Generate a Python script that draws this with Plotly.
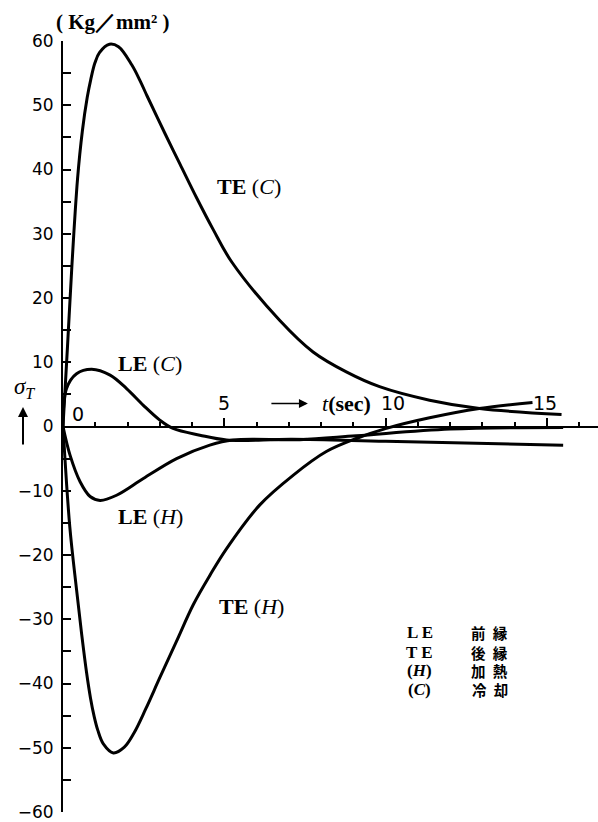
import plotly.graph_objects as go

# ---- data ----
te_c_t = [0, 0.14, 0.27, 0.45, 0.6, 0.75, 0.86, 0.99, 1.13, 1.44, 1.72, 2.13, 2.39, 2.61, 3.16, 3.63, 4.14, 4.66, 5.23,
          6.72, 7.75, 8.78, 9.81, 11.36, 12.91, 15.45]
te_c_v = [0, 12.5, 24.5, 38.5, 46.0, 51.2, 54.0, 56.6, 58.2, 59.5, 59.1, 56.3, 53.8, 51.4, 45.6, 40.8, 35.6, 30.6, 25.6,
          16.5, 11.6, 8.5, 6.2, 4.1, 2.8, 1.85]

te_h_t = [0, 0.21, 0.42, 0.58, 0.73, 0.85, 0.96, 1.08, 1.25, 1.56, 1.9, 2.2, 2.56, 3.0, 3.52, 4.04, 4.56, 5.07,
          6.1, 7.13, 8.16, 9.09, 10.02, 11.36, 12.9, 14.55]
te_h_v = [0, -15.6, -25.4, -32.4, -38.3, -42.2, -45.0, -47.3, -49.4, -50.8, -49.9, -47.7, -44.0, -39.1, -33.4, -27.7, -23.1, -19.0,
          -12.2, -7.6, -3.9, -1.87, -0.3, 1.35, 2.8, 3.75]

le_c_t = [0, 0.11, 0.42, 0.89, 1.46, 1.97, 2.49, 3.0, 3.41, 4.24, 5.07, 7.1, 10.0, 15.5]
le_c_v = [0, 5.9, 8.2, 8.9, 8.0, 5.9, 3.3, 1.0, -0.3, -1.35, -2.1, -2.0, -2.3, -2.9]

le_h_t = [0, 0.22, 0.53, 0.84, 1.15, 1.66, 2.49, 3.52, 4.55, 5.27, 7.34, 9.09, 12.0, 15.5]
le_h_v = [0, -4.5, -8.6, -10.9, -11.5, -10.7, -8.1, -5.0, -2.9, -2.1, -2.05, -1.45, -0.4, -0.15]

x_tick_labels = ["0", "5", "10", "15"]
y_tick_vals = list(range(-60, 61, 10))

legend_abbr = ["L E", "T E", "(<i>H</i>)", "(<i>C</i>)"]
legend_text = ["前\u2002縁", "後\u2002縁", "加\u2002熱", "冷\u2002却"]

SERIF = "Liberation Serif"
SANS = "DejaVu Sans"
CJK = "Noto Sans CJK JP"

# plot-area geometry (pixels) used for converting paper positions
L, R, T, B = 63, 598, 41, 814
W, H = R - L, B - T


def px(xp):
    return (xp - L) / W


def py(yp):
    return (B - yp) / H


fig = go.Figure()
for tt, vv in [(te_c_t, te_c_v), (te_h_t, te_h_v), (le_c_t, le_c_v), (le_h_t, le_h_v)]:
    fig.add_trace(go.Scatter(x=tt, y=vv, mode="lines",
                             line=dict(color="black", width=3, shape="spline", smoothing=1.0),
                             showlegend=False, hoverinfo="skip", cliponaxis=False))

ann = []
# x tick labels (above the axis)
x_lab_pos = [(0.46, 2.0), (4.99, 3.6), (10.23, 3.6), (14.94, 3.6)]
for lab, (xv, yv) in zip(x_tick_labels, x_lab_pos):
    ann.append(dict(x=xv, y=yv, text=lab, showarrow=False, xanchor="center", yanchor="middle",
                    font=dict(family=SANS, size=19, color="black")))

# curve labels
curve_labels = [("<b>TE</b> (<i>C</i>)", 5.76, 37.3), ("<b>LE</b> (<i>C</i>)", 2.7, 9.8),
                ("<b>LE</b> (<i>H</i>)", 2.7, -14.0), ("<b>TE</b> (<i>H</i>)", 5.83, -28.0)]
for txt, xv, yv in curve_labels:
    ann.append(dict(x=xv, y=yv, text=txt, showarrow=False, xanchor="center", yanchor="middle",
                    font=dict(family=SERIF, size=22, color="black")))

# units
ann.append(dict(xref="paper", yref="paper", x=px(113), y=py(22), text="<b>( Kg／mm² )</b>",
                showarrow=False, xanchor="center", yanchor="middle",
                font=dict(family=SERIF, size=21, color="black")))
# sigma_T
ann.append(dict(xref="paper", yref="paper", x=px(24), y=py(389), text="<i>σ<sub>T</sub></i>",
                showarrow=False, xanchor="center", yanchor="middle",
                font=dict(family=SERIF, size=23, color="black")))
# up arrow
ann.append(dict(xref="paper", yref="paper", x=px(23), y=py(408), ax=0, ay=39, text="",
                showarrow=True, arrowhead=2, arrowwidth=2, arrowsize=1, arrowcolor="black"))
# t(sec) arrow + text
ann.append(dict(x=7.59, y=3.57, ax=-38, ay=0, text="", showarrow=True,
                arrowhead=2, arrowwidth=1.5, arrowsize=1.2, arrowcolor="black"))
ann.append(dict(x=8.8, y=3.6, text="<i>t</i><b>(sec)</b>", showarrow=False,
                xanchor="center", yanchor="middle",
                font=dict(family=SERIF, size=22, color="black")))

# legend block
rows_v = [-32.0, -35.1, -38.0, -41.0]
for a, b, yv in zip(legend_abbr, legend_text, rows_v):
    ann.append(dict(x=11.06, y=yv, text="<b>" + a + "</b>", showarrow=False,
                    xanchor="center", yanchor="middle",
                    font=dict(family=SERIF, size=17, color="black")))
    ann.append(dict(x=13.23, y=yv, text="<b>" + b + "</b>", showarrow=False,
                    xanchor="center", yanchor="middle",
                    font=dict(family=CJK, size=14.5, color="black")))

fig.update_layout(
    width=598, height=822,
    margin=dict(l=L, r=598 - R, t=T, b=822 - B),
    paper_bgcolor="white", plot_bgcolor="white",
    annotations=ann,
    xaxis=dict(range=[0, 16.58], anchor="free", position=0.5, side="top",
               showline=True, linecolor="black", linewidth=2,
               ticks="outside", tickmode="array", tickvals=[5, 10, 15], ticklen=8,
               tickwidth=1.5, tickcolor="black",
               minor=dict(dtick=1, tick0=0, ticks="outside", ticklen=4, tickwidth=1.5, tickcolor="black"),
               showticklabels=False, showgrid=False, zeroline=False),
    yaxis=dict(range=[-60, 60], showline=True, linecolor="black", linewidth=2,
               ticks="inside", tickmode="array", tickvals=y_tick_vals,
               ticklen=8, tickwidth=1.5, tickcolor="black",
               minor=dict(dtick=5, tick0=0, ticks="inside", ticklen=8, tickwidth=1.5, tickcolor="black"),
               showgrid=False, zeroline=False, ticklabelstandoff=4, ticklabeloverflow="allow",
               tickfont=dict(family=SANS, size=17, color="black")),
)

fig.write_html("out.html")
